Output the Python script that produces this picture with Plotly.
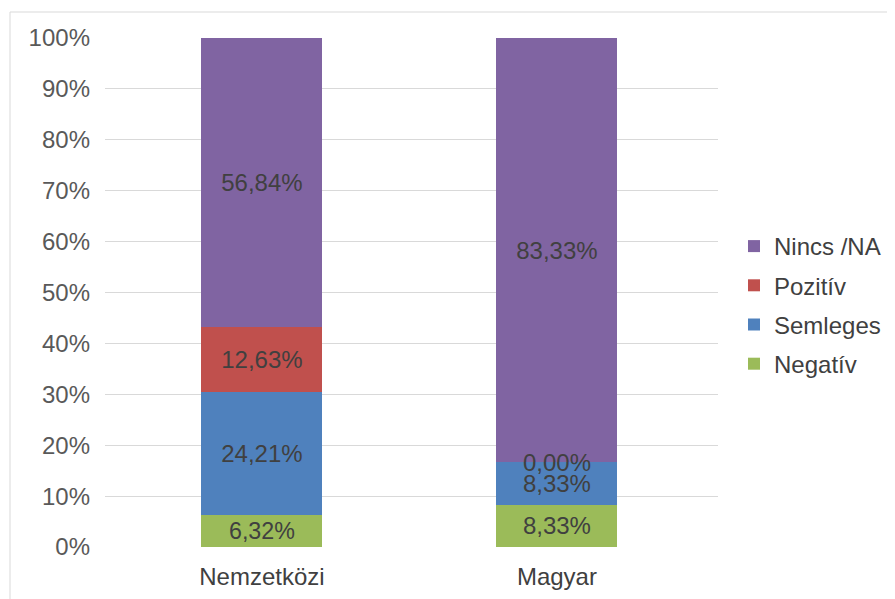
import plotly.graph_objects as go

categories = ["Nemzetközi", "Magyar"]
series_names = ["Negatív", "Semleges", "Pozitív", "Nincs /NA"]
negativ = [6.32, 8.33]
semleges = [24.21, 8.33]
pozitiv = [12.63, 0.00]
nincs = [56.84, 83.33]
colors = ["#9BBB59", "#4F81BD", "#C0504D", "#8064A2"]
y_ticks = list(range(0, 101, 10))
y_ticklabels = [f"{v}%" for v in y_ticks]

series_values = [negativ, semleges, pozitiv, nincs]
FONT = "Liberation Sans, Arial"

def fmt(v):
    return f"{v:.2f}".replace(".", ",") + "%"

fig = go.Figure()
n = len(series_names)
for i, (name, vals, col) in enumerate(zip(series_names, series_values, colors)):
    fig.add_trace(go.Bar(
        x=categories, y=vals, name=name, marker=dict(color=col, line=dict(width=0)),
        width=0.41, legendgroup=f"g{i}", legendrank=n - i,
        text=[fmt(v) if v > 0 else "" for v in vals],
        textposition="inside", insidetextanchor="middle",
        textfont=dict(family=FONT, size=24, color="#404040"),
        hoverinfo="skip",
    ))

# labels for zero-height segments, placed at their stack position
annotations = []
for ci, cat in enumerate(categories):
    cum = 0
    for vals in series_values:
        v = vals[ci]
        if v == 0:
            annotations.append(dict(x=cat, y=cum, text=fmt(v), showarrow=False,
                                    xref="x", yref="y", yanchor="middle",
                                    font=dict(family=FONT, size=24, color="#404040")))
        cum += v

L, T, W, H = 97, 30, 613, 509
fig.update_layout(
    barmode="stack",
    width=895, height=599,
    margin=dict(l=L, r=895 - L - W, t=T, b=599 - T - H, autoexpand=False),
    paper_bgcolor="white", plot_bgcolor="white",
    font=dict(family=FONT, size=24, color="#595959"),
    annotations=annotations,
    legend=dict(traceorder="grouped", x=(726 - L) / W, y=(T + H - 297) / H,
                xanchor="left", yanchor="middle",
                font=dict(size=24, color="#404040"), itemwidth=30, tracegroupgap=5),
    shapes=[dict(type="rect", xref="paper", yref="paper",
                 x0=(2 - L) / W, x1=(900 - L) / W,
                 y0=-(620 - T - H) / H, y1=1 + (T - 4) / H,
                 line=dict(color="#D9D9D9", width=1), layer="below")],
)
fig.update_xaxes(range=[-0.532, 1.546], showgrid=False, showline=False, ticks="",
                 ticklabelstandoff=13, tickfont=dict(size=24, color="#404040"))
fig.update_yaxes(range=[0, 100], tickvals=y_ticks, ticktext=y_ticklabels,
                 showgrid=True, gridcolor="#D9D9D9", gridwidth=1, zeroline=False,
                 showline=False, ticks="", ticklabelstandoff=14,
                 tickfont=dict(size=24, color="#595959"))

fig.write_html("out.html")
